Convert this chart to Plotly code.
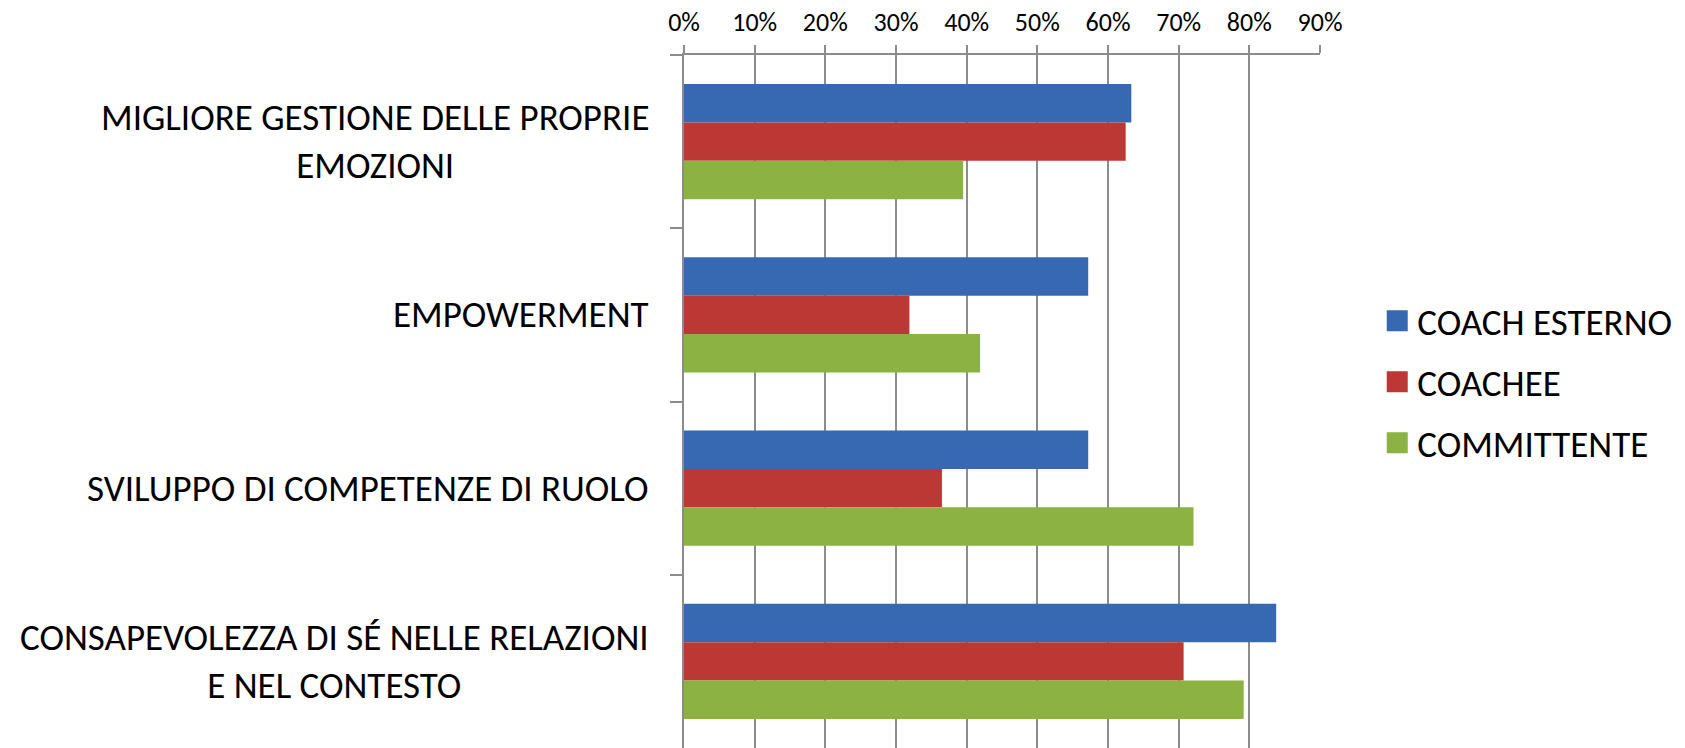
import plotly.graph_objects as go

categories = [
    "MIGLIORE GESTIONE DELLE PROPRIE<br>EMOZIONI",
    "EMPOWERMENT",
    "SVILUPPO DI COMPETENZE DI RUOLO",
    "CONSAPEVOLEZZA DI SÉ NELLE RELAZIONI<br>E NEL CONTESTO",
]
series_names = ["COACH ESTERNO", "COACHEE", "COMMITTENTE"]
coach_esterno = [0.633, 0.572, 0.572, 0.838]
coachee = [0.625, 0.319, 0.365, 0.707]
committente = [0.395, 0.419, 0.721, 0.792]
x_ticks = [0, 0.1, 0.2, 0.3, 0.4, 0.5, 0.6, 0.7, 0.8, 0.9]

colors = ["#3768B2", "#BC3835", "#8BB243"]
FONT = "Carlito, Calibri, Lato, sans-serif"

fig = go.Figure()
for name, vals, col in zip(series_names, [coach_esterno, coachee, committente], colors):
    fig.add_trace(go.Bar(
        y=categories, x=vals, name=name, orientation="h",
        marker=dict(color=col, line=dict(width=0)),
        showlegend=False,
    ))
for i, (name, col) in enumerate(zip(series_names, colors)):
    fig.add_trace(go.Scatter(
        x=[None], y=[None], mode="markers", name=name,
        marker=dict(symbol="square", size=16, color=col,
                    line=dict(color=col, width=5)),
        legendgroup=f"g{i}", showlegend=True,
    ))

for cat in categories:
    fig.add_annotation(
        x=0, xref="paper", y=cat, yref="y", text=cat, showarrow=False,
        xanchor="right", yanchor="middle", align="center", xshift=-33,
        font=dict(family=FONT, size=37, color="#000000"),
    )

fig.update_layout(
    width=1685, height=748,
    margin=dict(l=684, r=365, t=55, b=0, autoexpand=False),
    paper_bgcolor="white", plot_bgcolor="white",
    barmode="group", bargap=0.335, bargroupgap=0,
    font=dict(family=FONT, color="#000000"),
    legend=dict(
        x=1.09, xanchor="left", y=0.528, yanchor="middle",
        font=dict(family=FONT, size=37, color="#000000"),
        traceorder="grouped", tracegroupgap=10, itemsizing="trace",
        bgcolor="rgba(0,0,0,0)",
    ),
    xaxis=dict(
        side="top", range=[0, 0.9], tickvals=x_ticks, tickformat=".0%",
        showgrid=True, gridcolor="#8C8C8C", gridwidth=2,
        showline=True, linecolor="#8C8C8C", linewidth=2,
        ticks="outside", ticklen=8, tickcolor="#8C8C8C", tickwidth=2,
        tickfont=dict(family=FONT, size=26, color="#000000"),
        ticklabelstandoff=4, zeroline=False, fixedrange=True,
    ),
    yaxis=dict(
        type="category", autorange="reversed", tickson="boundaries",
        showticklabels=False, showgrid=False,
        showline=True, linecolor="#8C8C8C", linewidth=2,
        ticks="outside", ticklen=12, tickcolor="#8C8C8C", tickwidth=2,
        fixedrange=True,
    ),
)

# remove the browser's default 8px body margin so the figure fills the window
fig.write_html(
    "out.html",
    config={"displayModeBar": False},
    post_script="document.body.style.margin='0';",
)
